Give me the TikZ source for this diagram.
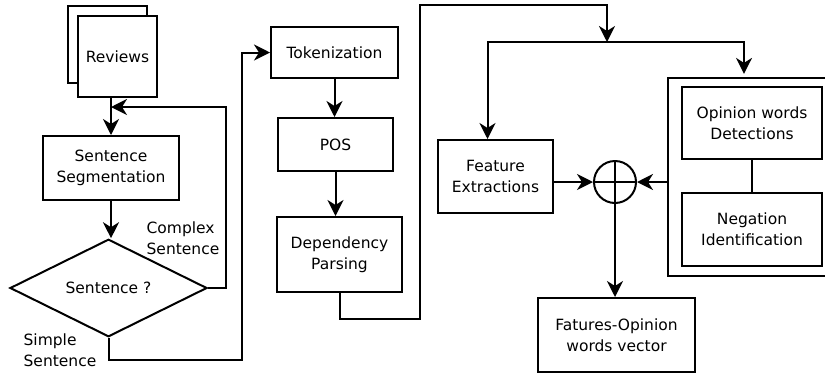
\documentclass[tikz,border=0pt]{standalone}
\usepackage{fontspec}
\setmainfont{DejaVu Sans}
\usepackage{tikz}
\usetikzlibrary{shapes.geometric, arrows.meta}
\usepackage{xcolor}
\tikzstyle{process} = [rectangle, draw=black, line width=2pt, fill=white, inner sep=0pt, align=center]
\tikzstyle{decision} = [diamond, draw=black, line width=2pt, inner sep=0pt, align=center]
\tikzstyle{label} = [align=left, inner sep=0pt]
\tikzstyle{arrow} = [line width=2pt, -{Stealth[length=16pt, width=16pt, inset=5pt]}]
\tikzstyle{line} = [line width=2pt]

\begin{document}
\begin{tikzpicture}[x=1pt, y=-1pt, every node/.style={font=\fontsize{15.5}{21}\selectfont}]
    \useasboundingbox (0,0) rectangle (825,373);
    % left column
    \node (revback) [process, minimum width=79pt, minimum height=77pt] at (107.5,44.5) {};
    \node (reviews) [process, minimum width=79pt, minimum height=81pt] at (117.5,56.5) {Reviews};
    \node (seg) [process, minimum width=136pt, minimum height=64pt] at (111,168) {Sentence\\Segmentation};
    \node (decide) [decision, minimum width=197pt, minimum height=94pt] at (108.5,288) {Sentence ?};
    \node (complex) [label] at (183,238) {Complex\\Sentence};
    \node (simple) [label] at (60,350) {Simple\\Sentence};
    % middle column
    \node (tok) [process, minimum width=127pt, minimum height=51pt] at (334.5,52.5) {Tokenization};
    \node (pos) [process, minimum width=115pt, minimum height=53pt] at (335.5,144.5) {POS};
    \node (dep) [process, minimum width=125pt, minimum height=75pt] at (339.5,254.5) {Dependency\\Parsing};
    % right part
    \node (feat) [process, minimum width=115pt, minimum height=73pt] at (495.5,176.5) {Feature\\Extractions};
    \node (plus) [circle, draw=black, line width=2pt, minimum size=42pt, inner sep=0pt] at (615,182) {};
    \node (group) [process, line width=2.2pt, minimum width=164pt, minimum height=198pt] at (750,177) {};
    \node (op) [process, minimum width=140pt, minimum height=72pt] at (752,123) {Opinion words\\Detections};
    \node (neg) [process, minimum width=140pt, minimum height=73pt] at (752,229.5) {Negation\\Identification};
    \node (vec) [process, minimum width=157pt, minimum height=74pt] at (616.5,335) {Fatures-Opinion\\words vector};

    \coordinate (back) at (111,107);
    \coordinate (low) at (242,360);
    \coordinate (c1) at (420,319);
    \coordinate (c2) at (420,5);
    \coordinate (split) at (607,42);

    \draw [arrow] (seg.north |- reviews.south) -- (seg.north);
    \draw [arrow] (decide.east) -- ++(18,0) |- (back);
    \draw [arrow] (seg.south) -- (seg.south |- decide.north);
    \draw [arrow] (decide.south) |- (low) |- (tok.west);
    \foreach \i/\j in {tok/pos, pos/dep} {
        \draw [arrow] (\i.south) -- (\i.south |- \j.north);
    }
    \draw [arrow] (dep.south) |- (c1) -- (c2) -| (split);
    \draw [arrow] (split) -| ([xshift=-8pt]feat.north);
    \draw [arrow, shorten >=3pt] (split) -| ([xshift=-6pt]group.north);
    \draw [arrow] (feat.east |- plus) -- (plus.west);
    \draw [arrow] (group.west |- plus) -- (plus.east);
    \draw [line] (plus.north) -- (plus.south);
    \draw [line] (plus.west) -- (plus.east);
    \draw [arrow] (plus.south) -- (plus.south |- vec.north);
    \draw [line] (op.south) -- (neg.north);
\end{tikzpicture}
\end{document}
